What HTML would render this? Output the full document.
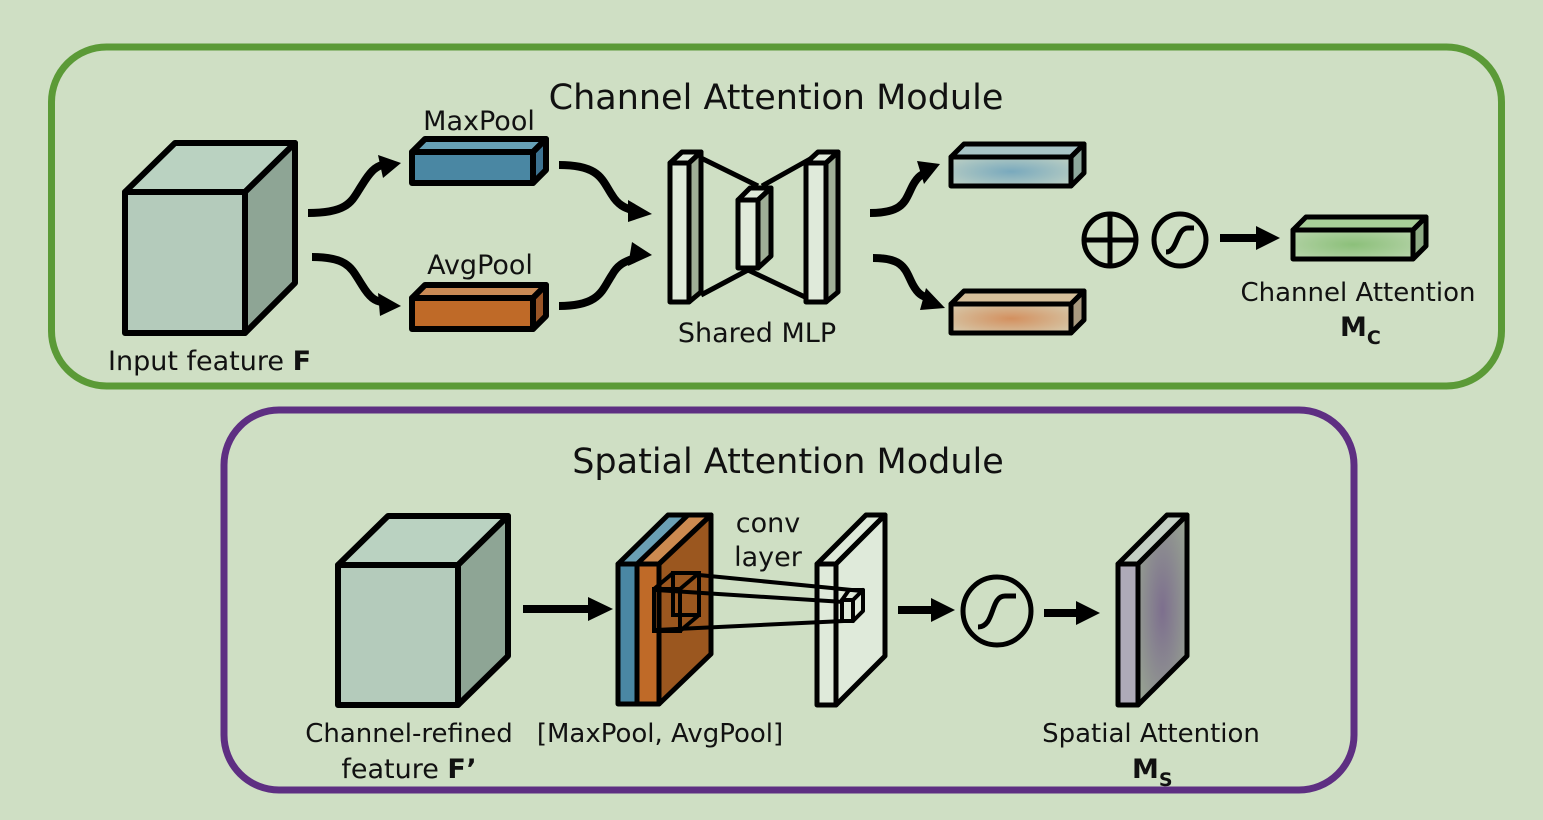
<!DOCTYPE html>
<html><head><meta charset="utf-8"><style>
html,body{margin:0;padding:0;background:#cfdfc4;}
svg{display:block}
text{font-family:"DejaVu Sans","Liberation Sans",sans-serif;fill:#111}
</style></head><body>
<svg width="1543" height="820" viewBox="0 0 1543 820" xmlns="http://www.w3.org/2000/svg">
<defs>
<radialGradient id="gb" cx="0.5" cy="0.5" r="0.6"><stop offset="0" stop-color="#79a9bd"/><stop offset="1" stop-color="#b6ccc3"/></radialGradient>
<radialGradient id="go" cx="0.5" cy="0.5" r="0.6"><stop offset="0" stop-color="#d3905f"/><stop offset="1" stop-color="#d6c4a4"/></radialGradient>
<radialGradient id="gg" cx="0.5" cy="0.5" r="0.6"><stop offset="0" stop-color="#8cc07a"/><stop offset="1" stop-color="#b3d2a6"/></radialGradient>
<radialGradient id="gs" cx="0.5" cy="0.5" r="0.7"><stop offset="0" stop-color="#7d6f8e"/><stop offset="1" stop-color="#9aa892"/></radialGradient>
</defs>
<rect width="1543" height="820" fill="#cfdfc4"/>
<rect x="51.5" y="47" width="1450" height="339" rx="55" fill="none" stroke="#5b9a37" stroke-width="7"/>
<rect x="224" y="410" width="1130" height="380" rx="55" fill="none" stroke="#5e2f82" stroke-width="7"/>

<text x="776" y="109" font-size="35" text-anchor="middle">Channel Attention Module</text>
<text x="788" y="473" font-size="35" text-anchor="middle">Spatial Attention Module</text>

<g stroke="#000" stroke-width="6" stroke-linejoin="round">
<polygon points="125,192 175,143 295,143 245,192" fill="#bad2c1"/>
<polygon points="245,192 295,143 295,283 245,333" fill="#8ea595"/>
<rect x="125" y="192" width="120" height="141" fill="#b4cbbb"/>
<polygon points="412,152 425,139 546,139 533,152" fill="#66a0b5"/>
<polygon points="533,152 546,139 546,170 533,183" fill="#3d7391"/>
<rect x="412" y="152" width="121" height="31" fill="#4a87a3"/>
<polygon points="412,298 425,285 546,285 533,298" fill="#c98a55"/>
<polygon points="533,298 546,285 546,316 533,329" fill="#9a5526"/>
<rect x="412" y="298" width="121" height="31" fill="#bf6a28"/>
</g>
<text x="479" y="130" font-size="27" text-anchor="middle">MaxPool</text>
<text x="480" y="274" font-size="27" text-anchor="middle">AvgPool</text>
<text x="108" y="370" font-size="27">Input feature <tspan font-weight="bold">F</tspan></text>

<g fill="none" stroke="#000" stroke-width="8">
<path d="M308,213 C350,213 352,200 362,185 C370,172 375,167 382,165"/>
<path d="M312,257 C350,257 352,270 362,285 C370,298 375,301 382,302"/>
<path d="M559,165 C600,165 602,180 612,195 C618,205 625,208 632,210"/>
<path d="M559,306 C600,306 602,290 612,275 C618,264 625,262 632,259"/>
<path d="M870,213 C905,213 905,200 913,185 C918,176 922,174 928,172"/>
<path d="M873,258 C905,258 905,270 913,285 C918,294 922,296 928,298"/>
</g>
<g fill="#000">
<polygon points="401,163 378,155 383,178"/>
<polygon points="401,306 378,293 380,316"/>
<polygon points="652,214 628,200 628,222"/>
<polygon points="652,255 632,242 628,266"/>
<polygon points="940,164 917,161 924,184"/>
<polygon points="945,308 926,288 920,310"/>
</g>

<g stroke="#000" stroke-width="5" stroke-linejoin="round">
<polygon points="670,163 682,152 701,152 689,163" fill="#dfeada"/>
<polygon points="689,163 701,152 701,292 689,302" fill="#9fae97"/>
<rect x="670" y="163" width="19" height="139" fill="#dfeada"/>
<polygon points="806,163 818,152 838,152 826,163" fill="#dfeada"/>
<polygon points="826,163 838,152 838,292 826,302" fill="#9fae97"/>
<rect x="806" y="163" width="20" height="139" fill="#dfeada"/>
<polygon points="738,200 750,188 771,188 758,200" fill="#dfeada"/>
<polygon points="758,200 771,188 771,256 758,268" fill="#9fae97"/>
<rect x="738" y="200" width="20" height="68" fill="#dfeada"/>
<line x1="701" y1="158" x2="758" y2="186"/>
<line x1="701" y1="295" x2="748" y2="270"/>
<line x1="762" y1="186" x2="812" y2="158"/>
<line x1="748" y1="270" x2="805" y2="297"/>
</g>
<text x="757" y="342" font-size="27" text-anchor="middle">Shared MLP</text>

<g stroke="#000" stroke-width="5" stroke-linejoin="round">
<polygon points="951,157 964,144 1084,144 1071,157" fill="#a8c4c6"/>
<polygon points="1071,157 1084,144 1084,173 1071,186" fill="#8da89c"/>
<rect x="951" y="157" width="120" height="29" fill="url(#gb)"/>
<polygon points="951,304 964,291 1084,291 1071,304" fill="#d6bf9a"/>
<polygon points="1071,304 1084,291 1084,320 1071,333" fill="#a99a80"/>
<rect x="951" y="304" width="120" height="29" fill="url(#go)"/>
<polygon points="1293,230 1306,217 1426,217 1413,230" fill="#a8cf98"/>
<polygon points="1413,230 1426,217 1426,246 1413,259" fill="#8fac86"/>
<rect x="1293" y="230" width="120" height="29" fill="url(#gg)"/>
<circle cx="1110" cy="240" r="26" fill="none"/>
<line x1="1110" y1="216" x2="1110" y2="264"/>
<line x1="1086" y1="240" x2="1134" y2="240"/>
<circle cx="1180" cy="240" r="26" fill="none"/>
<path d="M1166,252 C1178,252 1176,228 1188,228 L1194,228" fill="none"/>
</g>
<line x1="1220" y1="238" x2="1258" y2="238" stroke="#000" stroke-width="8"/>
<polygon points="1280,238 1256,226 1256,250" fill="#000"/>
<text x="1358" y="301" font-size="26" text-anchor="middle">Channel Attention</text>
<text x="1340" y="336" font-size="27" font-weight="bold">M<tspan font-size="19" dy="8">C</tspan></text>

<g stroke="#000" stroke-width="6" stroke-linejoin="round">
<polygon points="338,565 388,516 508,516 458,565" fill="#bad2c1"/>
<polygon points="458,565 508,516 508,656 458,705" fill="#8ea595"/>
<rect x="338" y="565" width="120" height="140" fill="#b4cbbb"/>
</g>
<line x1="523" y1="609" x2="590" y2="609" stroke="#000" stroke-width="8"/>
<polygon points="613,609 588,597 588,621" fill="#000"/>

<g stroke="#000" stroke-width="5" stroke-linejoin="round">
<polygon points="618,564 668,515 711,515 659,564" fill="#6aa0b5"/>
<polygon points="637,564 688,515 711,515 659,564" fill="#cc8a50"/>
<polygon points="659,564 711,515 711,654 659,704" fill="#9b571f"/>
<rect x="618" y="564" width="19" height="140" fill="#4a87a3"/>
<rect x="637" y="564" width="22" height="140" fill="#bf6a28"/>
</g>
<g stroke="#000" stroke-width="4" fill="none">
<rect x="654" y="589" width="26" height="42"/>
<rect x="673" y="573" width="26" height="42"/>
<line x1="654" y1="589" x2="673" y2="573"/>
<line x1="680" y1="589" x2="699" y2="573"/>
<line x1="680" y1="631" x2="699" y2="615"/>
</g>
<g stroke="#000" stroke-width="5" stroke-linejoin="round">
<polygon points="817,564 866,515 885,515 836,564" fill="#dfeada"/>
<polygon points="836,564 885,515 885,656 836,705" fill="#dfeada"/>
<rect x="817" y="564" width="19" height="141" fill="#dfeada"/>
</g>
<g stroke="#000" stroke-width="4" fill="none" stroke-linejoin="round">
<polygon points="842,600 849,590 863,590 856,600" fill="#dfeada"/>
<polygon points="853,600 863,590 863,611 853,621" fill="#dfeada"/>
<rect x="842" y="600" width="11" height="21" fill="#dfeada"/>
<line x1="699" y1="575" x2="862" y2="591"/>
<line x1="656" y1="590" x2="844" y2="602"/>
<line x1="656" y1="630" x2="844" y2="621"/>
</g>
<text x="768" y="532" font-size="27" text-anchor="middle">conv</text>
<text x="768" y="566" font-size="27" text-anchor="middle">layer</text>

<line x1="898" y1="610" x2="933" y2="610" stroke="#000" stroke-width="8"/>
<polygon points="955,610 931,598 931,622" fill="#000"/>
<g stroke="#000" stroke-width="5" fill="none">
<circle cx="997" cy="611" r="34"/>
<path d="M978,627 C995,627 990,596 1005,596 L1016,596"/>
</g>
<line x1="1044" y1="613" x2="1078" y2="613" stroke="#000" stroke-width="8"/>
<polygon points="1100,613 1076,601 1076,625" fill="#000"/>

<g stroke="#000" stroke-width="5" stroke-linejoin="round">
<polygon points="1118,564 1167,515 1187,515 1138,564" fill="#c4cfc4"/>
<polygon points="1138,564 1187,515 1187,656 1138,705" fill="url(#gs)"/>
<rect x="1118" y="564" width="20" height="141" fill="#aeaab8"/>
</g>

<text x="409" y="742" font-size="26" text-anchor="middle">Channel-refined</text>
<text x="409" y="778" font-size="27" text-anchor="middle">feature <tspan font-weight="bold">F’</tspan></text>
<text x="660" y="742" font-size="26" text-anchor="middle">[MaxPool, AvgPool]</text>
<text x="1151" y="742" font-size="26" text-anchor="middle">Spatial Attention</text>
<text x="1132" y="778" font-size="27" font-weight="bold">M<tspan font-size="19" dy="8">S</tspan></text>
</svg>
</body></html>
